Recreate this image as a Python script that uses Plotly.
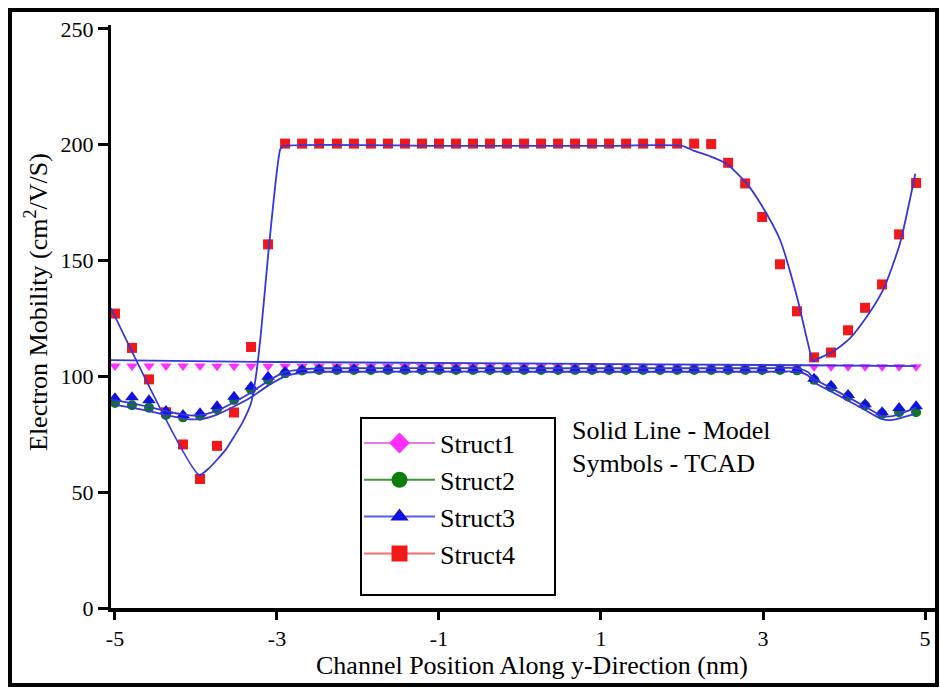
import plotly.graph_objects as go

# ---------------- data ----------------
X_TCAD = [-5.00, -4.79, -4.58, -4.37, -4.16, -3.95, -3.74, -3.53, -3.32, -3.11,
          -2.90, -2.69, -2.48, -2.26, -2.05, -1.84, -1.63, -1.42, -1.21, -1.00,
          -0.79, -0.58, -0.37, -0.16, 0.05, 0.26, 0.47, 0.68, 0.89, 1.10,
          1.31, 1.52, 1.73, 1.94, 2.15, 2.36, 2.57, 2.78, 2.99, 3.21,
          3.42, 3.63, 3.84, 4.05, 4.26, 4.47, 4.68, 4.89]

S1_TCAD = [104.5, 104.5, 104.5, 104.5, 104.5, 104.5, 104.4, 104.4, 104.4, 104.4,
           104.4, 104.4, 104.4, 104.4, 104.4, 104.4, 104.3, 104.3, 104.3, 104.3,
           104.3, 104.3, 104.3, 104.3, 104.3, 104.3, 104.3, 104.3, 104.3, 104.3,
           104.2, 104.2, 104.2, 104.2, 104.2, 104.2, 104.2, 104.2, 104.2, 104.2,
           104.2, 104.2, 104.2, 104.2, 104.2, 104.2, 104.2, 104.2]

S2_TCAD = [88.5, 87.5, 86.5, 83.3, 82.3, 83.0, 85.8, 89.8, 94.3, 98.5,
           101.3, 102.5, 102.8, 102.8, 102.8, 102.8, 102.8, 102.8, 102.8, 102.8,
           102.8, 102.8, 102.8, 102.8, 102.8, 102.8, 102.8, 102.8, 102.8, 102.8,
           102.8, 102.8, 102.8, 102.8, 102.8, 102.8, 102.8, 102.8, 102.8, 102.8,
           102.6, 98.5, 95.3, 91.3, 87.4, 83.8, 84.5, 84.5]

S3_TCAD = [90.6, 91.0, 89.7, 85.0, 83.3, 84.1, 87.1, 91.2, 95.5, 99.8,
           102.0, 102.8, 103.0, 103.0, 103.0, 103.0, 103.0, 103.0, 103.0, 103.0,
           103.0, 103.0, 103.0, 103.0, 103.0, 103.0, 103.0, 103.0, 103.0, 103.0,
           103.0, 103.0, 103.0, 103.0, 103.0, 103.0, 103.0, 103.0, 103.0, 103.0,
           102.8, 99.0, 96.0, 92.0, 88.0, 84.5, 86.3, 87.1]

S4_TCAD = [127.1, 112.3, 98.7, 84.5, 70.6, 55.7, 70.0, 84.4, 112.7, 157.0,
           200.5, 200.5, 200.5, 200.5, 200.5, 200.5, 200.5, 200.5, 200.5, 200.5,
           200.5, 200.5, 200.5, 200.5, 200.5, 200.5, 200.5, 200.5, 200.5, 200.5,
           200.5, 200.5, 200.5, 200.5, 200.5, 200.3,
           192.2, 183.3, 168.8, 148.4, 128.1, 108.2, 110.3, 119.9, 129.6, 139.7,
           161.3, 183.5]

# model curves (solid lines)
M1_X = [-5.05, -3.0, 0.0, 3.5, 4.89]
M1_Y = [107.0, 106.2, 105.6, 104.8, 104.4]

M23_X = [-5.05, -4.80, -4.58, -4.37, -4.16, -3.95, -3.74, -3.53, -3.32, -3.11,
         -2.90, -2.69, -2.40, 0.00, 3.00, 3.42, 3.55, 3.63, 3.84, 4.05,
         4.26, 4.47, 4.60, 4.89]
M2_Y = [88.0, 86.5, 85.0, 83.3, 81.8, 81.5, 83.5, 87.0, 91.0, 96.0,
        100.0, 101.5, 102.0, 102.0, 102.0, 102.0, 100.5, 97.5, 93.5, 89.5,
        85.5, 81.5, 81.2, 84.0]
M3_Y = [90.0, 88.5, 86.8, 85.0, 83.5, 83.2, 85.2, 88.8, 93.0, 98.0,
        101.8, 103.0, 103.5, 103.5, 103.5, 103.5, 102.0, 99.0, 95.0, 91.0,
        87.0, 83.0, 82.8, 86.5]

M4_X = [-5.05, -3.96, -3.85, -3.74, -3.63, -3.53, -3.42, -3.32, -3.26, -3.20,
        -3.11, -3.02, -2.96, -2.93, -1.0, 1.0, 2.00, 2.14, 2.35, 2.55,
        2.80, 2.98, 3.21, 3.42, 3.55, 3.62, 3.70, 3.86, 4.07, 4.28,
        4.49, 4.69, 4.88]
M4_Y = [129.5, 57.5, 60.0, 64.0, 68.5, 74.0, 80.5, 88.5, 100.0, 118.0,
        152.0, 183.0, 198.0, 199.3, 199.5, 199.5, 199.5, 197.5, 195.0, 191.8,
        183.2, 174.0, 159.0, 134.3, 115.0, 106.5, 108.0, 110.6, 116.3, 125.7,
        137.9, 157.3, 187.5]

X_TICKS = [-5, -3, -1, 1, 3, 5]
Y_TICKS = [0, 50, 100, 150, 200, 250]
NAMES = ["Struct1", "Struct2", "Struct3", "Struct4"]

# ---------------- styling ----------------
FONT = "Liberation Serif, Times New Roman, serif"
RED = "#f01818"
MAG = "#ff30ff"
GRN = "#0a7d0a"
BLU = "#1212e0"
LINE_BLUE = "#3838d8"

W, H = 940, 689
L, R, T, B = 111, 937, 25, 608


def pxx(px):
    return (px - L) / (R - L)


def pxy(py):
    return (B - py) / (B - T)


fig = go.Figure()

# TCAD symbols
fig.add_trace(go.Scatter(x=X_TCAD, y=S4_TCAD, mode="markers", showlegend=False,
                         marker=dict(symbol="square", size=10, color=RED)))
fig.add_trace(go.Scatter(x=X_TCAD, y=S1_TCAD, mode="markers", showlegend=False,
                         marker=dict(symbol="triangle-down", size=10, color=MAG)))
fig.add_trace(go.Scatter(x=X_TCAD, y=S2_TCAD, mode="markers", showlegend=False,
                         marker=dict(symbol="circle", size=10, color=GRN)))
fig.add_trace(go.Scatter(x=X_TCAD, y=S3_TCAD, mode="markers", showlegend=False,
                         marker=dict(symbol="triangle-up", size=12, color=BLU)))

# model lines
for xs, ys in [(M1_X, M1_Y), (M23_X, M2_Y), (M23_X, M3_Y), (M4_X, M4_Y)]:
    fig.add_trace(go.Scatter(x=xs, y=ys, mode="lines", showlegend=False,
                             line=dict(color=LINE_BLUE, width=1.8, shape="spline", smoothing=0.6)))

# legend entries
leg = [("diamond", MAG, "#e77be7"), ("circle", GRN, "#3c9a3c"),
       ("triangle-up", BLU, "#5a5af0"), ("square", RED, "#f07070")]
for name, (sym, mc, lc) in zip(NAMES, leg):
    fig.add_trace(go.Scatter(x=[None], y=[None], mode="lines+markers", name=name,
                             marker=dict(symbol=sym, size=16, color=mc),
                             line=dict(color=lc, width=2)))

shapes = [
    # outer frame
    dict(type="rect", xref="paper", yref="paper",
         x0=pxx(10), x1=pxx(937), y0=pxy(685), y1=pxy(10),
         line=dict(color="black", width=4), fillcolor="rgba(0,0,0,0)", layer="above"),
    # legend box
    dict(type="rect", xref="paper", yref="paper",
         x0=pxx(361), x1=pxx(555), y0=pxy(595), y1=pxy(418),
         line=dict(color="black", width=2), fillcolor="white", layer="above"),
]

annotations = [
    dict(text="Channel Position Along y-Direction (nm)", xref="paper", yref="paper",
         x=pxx(532), y=pxy(665), showarrow=False, xanchor="center", yanchor="middle",
         font=dict(family=FONT, size=26, color="black")),
    dict(text="Electron Mobility (cm<sup>2</sup>/V/S)", xref="paper", yref="paper",
         x=pxx(36), y=pxy(302), showarrow=False, textangle=-90,
         xanchor="center", yanchor="middle",
         font=dict(family=FONT, size=26, color="black")),
    dict(text="Solid Line - Model", xref="paper", yref="paper",
         x=pxx(570), y=pxy(431), showarrow=False, xanchor="left", yanchor="middle",
         font=dict(family=FONT, size=26, color="black")),
    dict(text="Symbols - TCAD", xref="paper", yref="paper",
         x=pxx(570), y=pxy(463), showarrow=False, xanchor="left", yanchor="middle",
         font=dict(family=FONT, size=26, color="black")),
]

fig.update_layout(
    width=W, height=H,
    margin=dict(l=L, r=W - R, t=T, b=H - B, pad=0),
    paper_bgcolor="white", plot_bgcolor="white",
    font=dict(family=FONT, color="black"),
    showlegend=True,
    legend=dict(x=pxx(359), y=pxy(419.6), xanchor="left", yanchor="top",
                bgcolor="rgba(0,0,0,0)", borderwidth=0, itemwidth=71,
                font=dict(family=FONT, size=26, color="black"),
                itemclick=False, itemdoubleclick=False),
    shapes=shapes,
    annotations=annotations,
    xaxis=dict(range=[-5.049, 5.148], tickvals=X_TICKS, ticktext=[str(v) for v in X_TICKS],
               showgrid=False, zeroline=False, showline=True, linecolor="black", linewidth=4,
               ticks="outside", ticklen=8, tickwidth=3, tickcolor="black",
               tickfont=dict(family=FONT, size=22, color="black")),
    yaxis=dict(range=[0, 251.7], tickvals=Y_TICKS,
               showgrid=False, zeroline=False, showline=True, linecolor="black", linewidth=3,
               ticks="outside", ticklen=10, tickwidth=3, tickcolor="black",
               tickfont=dict(family=FONT, size=22, color="black")),
)

fig.write_html("out.html")
